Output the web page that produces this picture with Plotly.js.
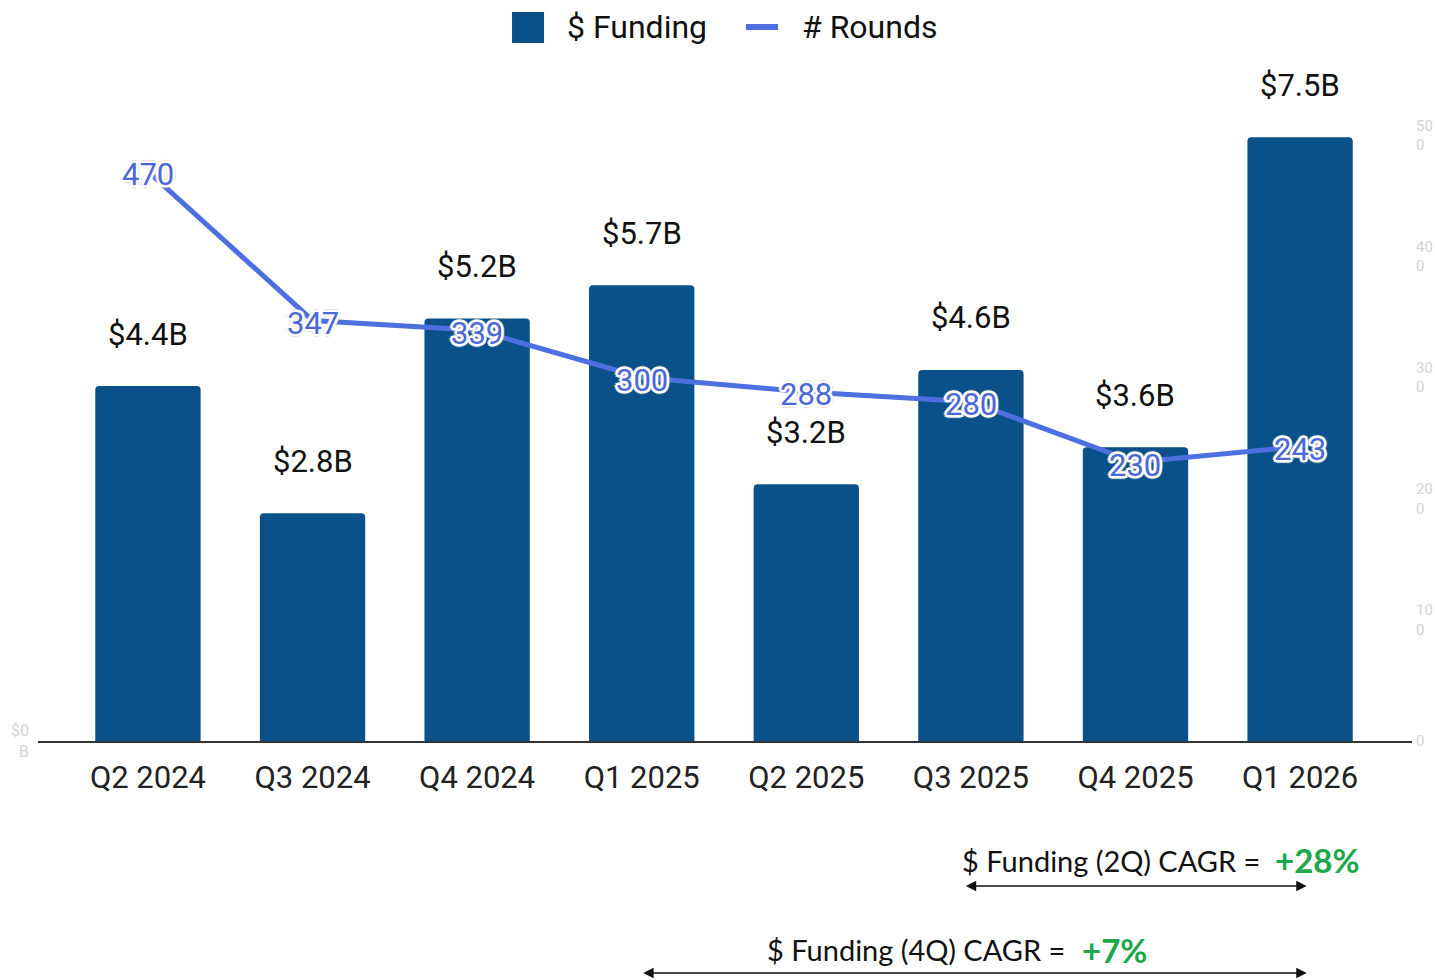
<!DOCTYPE html>
<html>
<head>
<meta charset="utf-8">
<script src="https://cdn.plot.ly/plotly-3.0.1.min.js"></script>
<style>html,body{margin:0;padding:0;background:#fff;}#chart{width:1435px;height:980px;}</style>
</head>
<body>
<div id="chart"></div>
<script>
const quarters = ["Q2 2024","Q3 2024","Q4 2024","Q1 2025","Q2 2025","Q3 2025","Q4 2025","Q1 2026"];
const fundingB = [4.41, 2.83, 5.25, 5.66, 3.19, 4.61, 3.65, 7.5];
const fundingLabels = ["$4.4B","$2.8B","$5.2B","$5.7B","$3.2B","$4.6B","$3.6B","$7.5B"];
const rounds = [470, 347, 339, 300, 288, 280, 230, 243];
const roundLabels = ["470","347","339","300","288","280","230","243"];
const rightTickVals = [0,100,200,300,400,500];
const rightTickText = ["0","10<br>0","20<br>0","30<br>0","40<br>0","50<br>0"];
const leftTickVals = [0];
const leftTickText = ["$0<br>B"];

const barColor = "#0a5189";
const lineColor = "#4d6fe0";
const ws = "2px 0 0 #fff, -2px 0 0 #fff, 0 2px 0 #fff, 0 -2px 0 #fff, 2px 2px 0 #fff, -2px -2px 0 #fff, 2px -2px 0 #fff, -2px 2px 0 #fff, 3px 0 1px #ddd, -3px 0 1px #ddd, 0 3px 1px #ddd, 0 -3px 1px #ddd";

const traces = [
  {type:"bar", x:quarters, y:fundingB, name:"$ Funding", marker:{color:barColor, cornerradius:4}, showlegend:false, hoverinfo:"skip"},
  {type:"scatter", mode:"lines", x:quarters, y:rounds, yaxis:"y2", name:"# Rounds",
   line:{color:lineColor, width:5}, showlegend:false, hoverinfo:"skip", cliponaxis:false}
];

const annotations = quarters.map((q,i)=>({x:q, y:fundingB[i], xref:"x", yref:"y", text:fundingLabels[i], showarrow:false, yshift:52, yanchor:"middle", font:{family:"Roboto", size:31, color:"#111"}}));

quarters.forEach((q,i)=>annotations.push({x:q, y:rounds[i], xref:"x", yref:"y2", text:roundLabels[i], showarrow:false, yshift:-3, yanchor:"middle",
  font:{family:"Roboto", size:31, color:"#4a68d6", shadow:ws}}));

// legend
annotations.push({xref:"paper", yref:"paper", x:0.3836, y:1.1087, xanchor:"left", yanchor:"middle", text:"$ Funding", showarrow:false, font:{family:"Roboto", size:32, color:"#111"}});
annotations.push({xref:"paper", yref:"paper", x:0.5546, y:1.1087, xanchor:"left", yanchor:"middle", text:"# Rounds", showarrow:false, font:{family:"Roboto", size:32, color:"#111"}});

// CAGR texts
const calib = "Lato, 'Noto Sans', sans-serif";
annotations.push({xref:"paper", yref:"paper", x:0.6710, y:-0.1848, xanchor:"left", yanchor:"middle", text:"$ Funding (2Q) CAGR =", showarrow:false, font:{family:calib, size:29, color:"#111"}});
annotations.push({xref:"paper", yref:"paper", x:0.8988, y:-0.1848, xanchor:"left", yanchor:"middle", text:"<b>+28%</b>", showarrow:false, font:{family:calib, size:33, color:"#1aa84a"}});
annotations.push({xref:"paper", yref:"paper", x:0.5291, y:-0.3245, xanchor:"left", yanchor:"middle", text:"$ Funding (4Q) CAGR =", showarrow:false, font:{family:calib, size:29, color:"#111"}});
annotations.push({xref:"paper", yref:"paper", x:0.7584, y:-0.3245, xanchor:"left", yanchor:"middle", text:"<b>+7%</b>", showarrow:false, font:{family:calib, size:33, color:"#1aa84a"}});

// arrows
annotations.push({xref:"x", yref:"paper", x:7.04, y:-0.2252, axref:"x", ayref:"pixel", ax:4.96, ay:0, text:"", showarrow:true, arrowside:"end+start", arrowhead:2, arrowsize:1.3, arrowwidth:1.6, arrowcolor:"#111"});
annotations.push({xref:"x", yref:"paper", x:7.04, y:-0.3602, axref:"x", ayref:"pixel", ax:3.0, ay:0, text:"", showarrow:true, arrowside:"end+start", arrowhead:2, arrowsize:1.3, arrowwidth:1.6, arrowcolor:"#111"});

const shapes = [
  {type:"rect", xref:"paper", yref:"paper", x0:0.3450, x1:0.3683, y0:1.0839, y1:1.1320, fillcolor:barColor, line:{width:0}},
  {type:"line", xref:"paper", yref:"paper", x0:0.5153, x1:0.5386, y0:1.1087, y1:1.1087, line:{color:lineColor, width:6}}
];

const layout = {
  width:1435, height:980,
  margin:{l:38, r:23, t:97, b:239},
  paper_bgcolor:"#fff", plot_bgcolor:"#fff",
  font:{family:"Roboto", color:"#111"},
  bargap:0.36,
  showlegend:false,
  xaxis:{type:"category", range:[-0.668, 7.68], showline:true, linecolor:"#333", linewidth:2, showgrid:false, ticks:"",
         tickfont:{family:"Roboto", size:31, color:"#222"}, ticklabelstandoff:8},
  yaxis:{range:[0,8], showgrid:false, zeroline:false, showline:false, tickvals:leftTickVals, ticktext:leftTickText,
         tickfont:{size:16, color:"#d4d4d4"}, ticklabelstandoff:8},
  yaxis2:{overlaying:"y", side:"right", range:[0,531.4], showgrid:false, zeroline:false, showline:false,
          tickvals:rightTickVals, ticktext:rightTickText, tickfont:{size:15, color:"#d4d4d4"}, ticklabelstandoff:3},
  annotations:annotations,
  shapes:shapes
};

Plotly.newPlot("chart", traces, layout, {displayModeBar:false, staticPlot:true});
</script>
</body>
</html>
